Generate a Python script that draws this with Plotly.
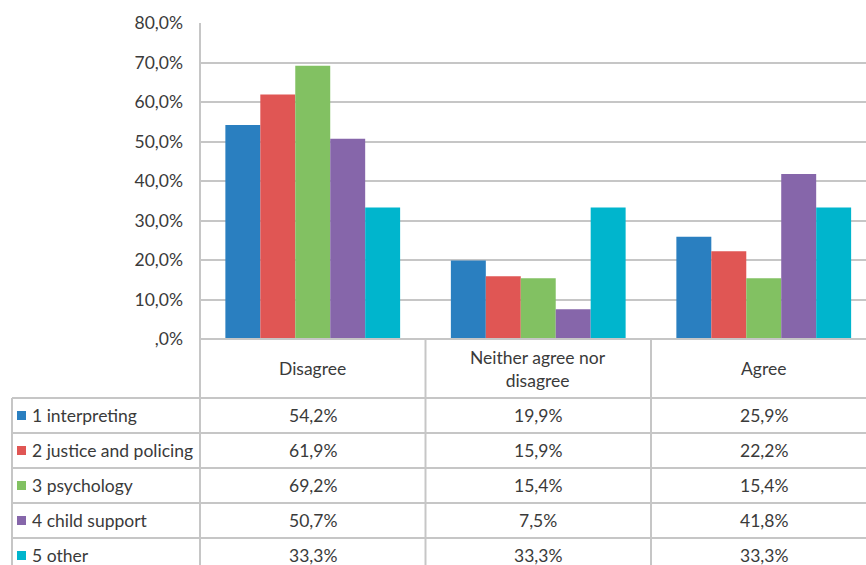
import plotly.graph_objects as go

categories = ["Disagree", "Neither agree nor<br>disagree", "Agree"]
series_names = ["1 interpreting", "2 justice and policing", "3 psychology", "4 child support", "5 other"]
interpreting = [0.542, 0.199, 0.259]
justice = [0.619, 0.159, 0.222]
psychology = [0.692, 0.154, 0.154]
child_support = [0.507, 0.075, 0.418]
other = [0.333, 0.333, 0.333]
tick_vals = [0, 0.1, 0.2, 0.3, 0.4, 0.5, 0.6, 0.7, 0.8]
tick_text = [",0%", "10,0%", "20,0%", "30,0%", "40,0%", "50,0%", "60,0%", "70,0%", "80,0%"]

series_values = [interpreting, justice, psychology, child_support, other]
colors = ["#2a7fc0", "#e05654", "#82c162", "#8666aa", "#00b5cd"]

W, H = 866, 565
FONT = "Lato, 'Open Sans', sans-serif"
TXT = "#3a3a3a"
GRID = "#c6c6c6"
FS = 17.5

# layout geometry in pixels
x_axis_left = 200
cat_w = 225.5
y_zero = 339
y_top = 23
header_bottom = 398
row_h = 35
table_left = 12

def px(x):
    return x / W

def py(y):
    return 1 - y / H

fig = go.Figure()
for name, vals, col in zip(series_names, series_values, colors):
    fig.add_trace(go.Bar(x=list(range(len(categories))), y=vals, name=name,
                         marker=dict(color=col, line=dict(width=0)), showlegend=False))

x_right_val = -0.5 + (W - x_axis_left) / cat_w

fig.update_layout(
    width=W, height=H,
    margin=dict(l=0, r=0, t=0, b=0, autoexpand=False),
    paper_bgcolor="white", plot_bgcolor="white",
    barmode="group", bargap=0.225, bargroupgap=0,
    font=dict(family=FONT, color=TXT, size=FS),
    xaxis=dict(domain=[px(x_axis_left), 1], range=[-0.5, x_right_val],
               showticklabels=False, showgrid=False, zeroline=False,
               showline=False, fixedrange=True, automargin=False),
    yaxis=dict(domain=[py(y_zero), py(y_top)], range=[0, 0.8],
               tickvals=tick_vals, ticktext=tick_text,
               showgrid=True, gridcolor=GRID, gridwidth=2,
               zeroline=False, showline=False, automargin=False,
               ticks="", ticklabelstandoff=16,
               tickfont=dict(family=FONT, size=FS, color=TXT)),
)

shapes = []
LINE = dict(color=GRID, width=2)
# vertical axis line
shapes.append(dict(type="line", xref="paper", yref="paper",
                   x0=px(x_axis_left), x1=px(x_axis_left), y0=py(y_top), y1=0, line=LINE))
# category separators in the table
for i in range(1, len(categories)):
    xx = x_axis_left + i * cat_w
    shapes.append(dict(type="line", xref="paper", yref="paper",
                       x0=px(xx), x1=px(xx), y0=py(y_zero), y1=0, line=LINE))
# zero line
shapes.append(dict(type="line", xref="paper", yref="paper",
                   x0=px(x_axis_left), x1=1, y0=py(y_zero), y1=py(y_zero), line=LINE))
# table horizontal lines
for r in range(len(series_names)):
    yy = header_bottom + r * row_h
    shapes.append(dict(type="line", xref="paper", yref="paper",
                       x0=px(table_left), x1=1, y0=py(yy), y1=py(yy), line=LINE))
# table left border
shapes.append(dict(type="line", xref="paper", yref="paper",
                   x0=px(table_left), x1=px(table_left), y0=py(header_bottom), y1=0, line=LINE))
# legend keys
for r, col in enumerate(colors):
    yc = header_bottom + r * row_h + row_h / 2
    shapes.append(dict(type="rect", xref="paper", yref="paper",
                       x0=px(17), x1=px(26), y0=py(yc - 4.5), y1=py(yc + 4.5),
                       fillcolor=col, line=dict(width=0)))

annotations = []
# header labels
for i, c in enumerate(categories):
    annotations.append(dict(x=i, xref="x", y=py((y_zero + header_bottom) / 2), yref="paper",
                            text=c, showarrow=False, xanchor="center", yanchor="middle",
                            font=dict(family=FONT, size=FS, color=TXT)))
# row labels and values
for r, (name, vals) in enumerate(zip(series_names, series_values)):
    yc = py(header_bottom + r * row_h + row_h / 2)
    annotations.append(dict(x=px(30), xref="paper", y=yc, yref="paper", text=name,
                            showarrow=False, xanchor="left", yanchor="middle",
                            font=dict(family=FONT, size=FS, color=TXT)))
    for i, v in enumerate(vals):
        txt = f"{v*100:.1f}%".replace(".", ",")
        annotations.append(dict(x=i, xref="x", y=yc, yref="paper", text=txt,
                                showarrow=False, xanchor="center", yanchor="middle",
                                font=dict(family=FONT, size=FS, color=TXT)))

fig.update_layout(shapes=shapes, annotations=annotations)
fig.write_html("out.html")
